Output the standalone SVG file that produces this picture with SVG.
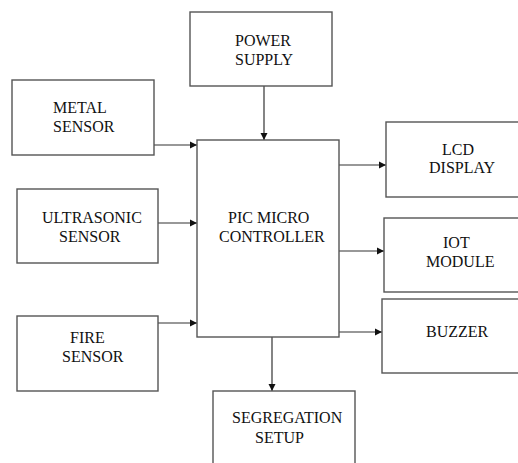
<svg xmlns="http://www.w3.org/2000/svg" width="518" height="463" viewBox="0 0 518 463">
<style>
.box{fill:#fff;stroke:#555;stroke-width:1.4}
.t{font-family:'Liberation Serif','DejaVu Serif',serif;font-size:16px;fill:#111}
.c{stroke:#333;stroke-width:1.2;fill:none;marker-end:url(#ah)}
</style>
<defs>
<marker id="ah" markerWidth="8" markerHeight="8" refX="7" refY="4" orient="auto" markerUnits="userSpaceOnUse">
<path d="M0,0.5 L7,4 L0,7.5 Z" fill="#111"/>
</marker>
</defs>
<rect width="518" height="463" fill="#fff"/>
<g id="connectors">
<line class="c" x1="264" y1="86" x2="264" y2="140"/>
<line class="c" x1="154" y1="145" x2="197" y2="145"/>
<line class="c" x1="158" y1="223" x2="197" y2="223"/>
<line class="c" x1="158" y1="323" x2="197" y2="323"/>
<line class="c" x1="339" y1="165" x2="386" y2="165"/>
<line class="c" x1="339" y1="251" x2="384" y2="251"/>
<line class="c" x1="339" y1="332" x2="382" y2="332"/>
<line class="c" x1="272" y1="337" x2="272" y2="391"/>
</g>
<g id="power">
<rect class="box" x="190" y="12" width="142" height="74"/>
<text class="t" x="235" y="46">POWER</text>
<text class="t" x="235" y="65">SUPPLY</text>
</g>
<g id="metal">
<rect class="box" x="12" y="80" width="142" height="75"/>
<text class="t" x="53" y="113">METAL</text>
<text class="t" x="53" y="132">SENSOR</text>
</g>
<g id="ultrasonic">
<rect class="box" x="17" y="189" width="141" height="74"/>
<text class="t" x="42" y="223">ULTRASONIC</text>
<text class="t" x="59" y="242">SENSOR</text>
</g>
<g id="fire">
<rect class="box" x="17" y="316" width="141" height="75"/>
<text class="t" x="70" y="343">FIRE</text>
<text class="t" x="62" y="362">SENSOR</text>
</g>
<g id="pic">
<rect class="box" x="197" y="140" width="142" height="197"/>
<text class="t" x="228" y="223">PIC MICRO</text>
<text class="t" x="219" y="242">CONTROLLER</text>
</g>
<g id="lcd">
<rect class="box" x="386" y="122" width="140" height="75"/>
<text class="t" x="442" y="155">LCD</text>
<text class="t" x="429" y="173">DISPLAY</text>
</g>
<g id="iot">
<rect class="box" x="384" y="218" width="142" height="74"/>
<text class="t" x="443" y="248">IOT</text>
<text class="t" x="426" y="267">MODULE</text>
</g>
<g id="buzzer">
<rect class="box" x="382" y="299" width="144" height="74"/>
<text class="t" x="426" y="337">BUZZER</text>
</g>
<g id="segregation">
<rect class="box" x="213" y="391" width="142" height="80"/>
<text class="t" x="232" y="423">SEGREGATION</text>
<text class="t" x="255" y="443">SETUP</text>
</g>
</svg>
